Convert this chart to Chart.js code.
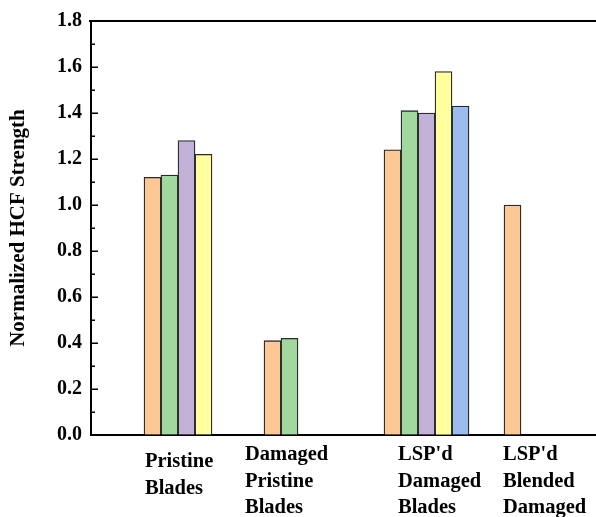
<!DOCTYPE html>
<html>
<head>
<meta charset="utf-8">
<script src="https://cdn.jsdelivr.net/npm/chart.js@4.4.0/dist/chart.umd.min.js"></script>
<style>
  html, body { margin: 0; padding: 0; background: #fff; }
  #wrap { width: 596px; height: 517px; position: relative; }
</style>
</head>
<body>
<div id="wrap"><canvas id="hcfChart"></canvas></div>
<script>
// normalized HCF strength per blade condition
const groupPos = [1, 2, 3, 4];
const groupLabels = [
  ['Pristine', 'Blades'],
  ['Damaged', 'Pristine', 'Blades'],
  ["LSP'd", 'Damaged', 'Blades'],
  ["LSP'd", 'Blended', 'Damaged']
];
const seriesA = [1.12, 0.41, 1.24, 1.00];
const seriesB = [1.13, 0.42, 1.41, null];
const seriesC = [1.28, null, 1.40, null];
const seriesD = [1.22, null, 1.58, null];
const seriesE = [null, null, 1.43, null];
const yTicks = [0, 0.2, 0.4, 0.6, 0.8, 1.0, 1.2, 1.4, 1.6, 1.8];

const fills = ['#fdc896', '#a0d89e', '#c2b1d7', '#ffff9e', '#9cbcf1'];
const serif = '"Liberation Serif", "Times New Roman", serif';

// label placement relative to group centre (px)
const labelShift = [-41.5, -61.5, -28.5, -43.5];
const labelTop = [462, 455, 455, 455];

const ctx = document.getElementById('hcfChart').getContext('2d');

const frame = {
  id: 'frame',
  afterDraw(chart) {
    const { ctx, chartArea: a, scales: { x, y } } = chart;
    ctx.save();
    ctx.strokeStyle = '#000';
    ctx.lineWidth = 2;
    ctx.beginPath();
    ctx.moveTo(a.left - 2, a.top);
    ctx.lineTo(a.right, a.top);
    ctx.stroke();
    // inward major/minor ticks
    ctx.lineWidth = 1.5;
    for (let i = 1; i < 18; i++) {
      const py = Math.round(y.getPixelForValue(i / 10)) + 0.25;
      const len = i % 2 === 0 ? 7 : 4;
      ctx.beginPath();
      ctx.moveTo(a.left, py);
      ctx.lineTo(a.left + len, py);
      ctx.stroke();
    }
    // group labels
    ctx.fillStyle = '#000';
    ctx.font = 'bold 20.5px ' + serif;
    ctx.textAlign = 'left';
    ctx.textBaseline = 'middle';
    groupLabels.forEach((lines, i) => {
      const px = x.getPixelForValue(groupPos[i]) + labelShift[i];
      lines.forEach((t, j) => ctx.fillText(t, px, labelTop[i] + j * 26.5));
    });
    ctx.restore();
  }
};

const series = [seriesA, seriesB, seriesC, seriesD, seriesE];
new Chart(ctx, {
  type: 'bar',
  data: {
    datasets: series.map((vals, k) => ({
      label: 'S' + (k + 1),
      data: vals.map((v, i) => ({ x: groupPos[i], y: v })),
      backgroundColor: fills[k],
      borderColor: '#2a2a2a',
      borderWidth: 1.3,
      borderSkipped: 'bottom',
      barThickness: 17
    }))
  },
  options: {
    responsive: true,
    maintainAspectRatio: false,
    animation: false,
    layout: { padding: { top: 21, right: 0, left: 0, bottom: 0 } },
    plugins: { legend: { display: false }, tooltip: { enabled: false } },
    scales: {
      x: {
        type: 'linear',
        offset: false,
        min: 0.2042,
        max: 4.4125,
        ticks: { display: false },
        grid: { display: true, offset: false, drawOnChartArea: false, drawTicks: false },
        border: { display: true, color: '#000', width: 2 },
        afterFit: s => { s.height = 82; }
      },
      y: {
        min: 0,
        max: 1.8,
        afterBuildTicks: s => { s.ticks = yTicks.map(v => ({ value: v })); },
        ticks: {
          padding: 9,
          color: '#000',
          font: { family: serif, size: 20, weight: 'bold' },
          callback: v => v.toFixed(1)
        },
        grid: { display: true, drawOnChartArea: false, drawTicks: false },
        border: { display: true, color: '#000', width: 2 },
        title: {
          display: true,
          text: 'Normalized HCF Strength',
          color: '#000',
          font: { family: serif, size: 21, weight: 'bold' },
          padding: { top: 6, bottom: 0 }
        },
        afterFit: s => { s.width = 91; }
      }
    }
  },
  plugins: [frame]
});
</script>
</body>
</html>
